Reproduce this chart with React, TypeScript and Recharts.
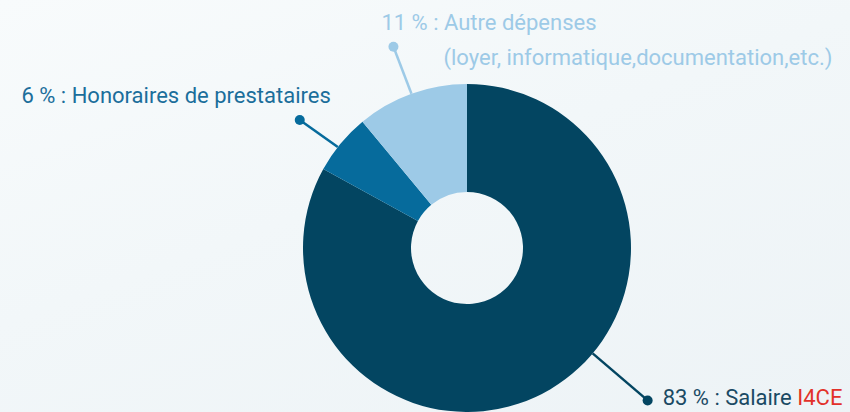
import { Pie, PieChart, Cell } from "recharts";

const categories = ["Salaire I4CE", "Honoraires de prestataires", "Autre dépenses"];
const shares = [83, 6, 11];
const labelPrefixes = ["83 % : Salaire ", "6 % : Honoraires de prestataires", "11 % : Autre dépenses"];
const labelHighlights = ["I4CE", "", ""];
const labelSecondLines = ["", "", "(loyer, informatique,documentation,etc.)"];

const sliceColors = ["#034561", "#066b9c", "#9dcae7"];
const textColors = ["#1a4a64", "#1b6e9b", "#9dcae7"];

// leader layout per slice: anchor angle override, dot offset, text offsets (relative to dot)
const leaderLayout = [
  { angle: -40, dx: 55, dy: 47, tx: 15, ty: 5, anchor: "start", t2x: 0, t2y: 0 },
  { angle: 142, dx: -38, dy: -27, tx: 31, ty: -17, anchor: "end", t2x: 0, t2y: 0 },
  { angle: null, dx: -18, dy: -47, tx: -12, ty: -17, anchor: "start", t2x: 50, t2y: 18 }
];

const data = categories.map((name, i) => ({ name, value: shares[i] }));

const RADIAN = Math.PI / 180;

function renderLabel(props: any) {
  const { cx, cy, midAngle, outerRadius, index } = props;
  const layout = leaderLayout[index];
  const angle = layout.angle ?? midAngle;
  const sx = cx + outerRadius * Math.cos(angle * RADIAN);
  const sy = cy - outerRadius * Math.sin(angle * RADIAN);
  const dotX = sx + layout.dx;
  const dotY = sy + layout.dy;
  const color = sliceColors[index];
  return (
    <g key={`label-${index}`}>
      <line x1={sx} y1={sy} x2={dotX} y2={dotY} stroke={color} strokeWidth={2.5} />
      <circle cx={dotX} cy={dotY} r={5} fill={color} />
      <text
        x={dotX + layout.tx}
        y={dotY + layout.ty}
        textAnchor={layout.anchor}
        fill={textColors[index]}
        fontSize={22}
        fontFamily="Roboto, sans-serif"
      >
        {labelPrefixes[index]}
        {labelHighlights[index] && <tspan fill="#e2312a">{labelHighlights[index]}</tspan>}
      </text>
      {labelSecondLines[index] && (
        <text
          x={dotX + layout.t2x}
          y={dotY + layout.t2y}
          textAnchor="start"
          fill={textColors[index]}
          fontSize={22}
          fontFamily="Roboto, sans-serif"
        >
          {labelSecondLines[index]}
        </text>
      )}
    </g>
  );
}

export default function App() {
  return (
    <div
      style={{
        position: "absolute",
        left: 0,
        top: 0,
        width: 850,
        height: 412,
        overflow: "hidden",
        background: "linear-gradient(160deg, #f8fbfc 0%, #f2f7f9 45%, #edf3f6 100%)"
      }}
    >
      <PieChart width={850} height={412} margin={{ top: 0, right: 0, bottom: 0, left: 0 }}>
        <Pie
          data={data}
          dataKey="value"
          nameKey="name"
          cx={467}
          cy={248}
          innerRadius={56}
          outerRadius={164}
          startAngle={90}
          endAngle={-270}
          stroke="none"
          label={renderLabel}
          labelLine={false}
          isAnimationActive={false}
        >
          {data.map((entry, i) => (
            <Cell key={entry.name} fill={sliceColors[i]} />
          ))}
        </Pie>
      </PieChart>
    </div>
  );
}
